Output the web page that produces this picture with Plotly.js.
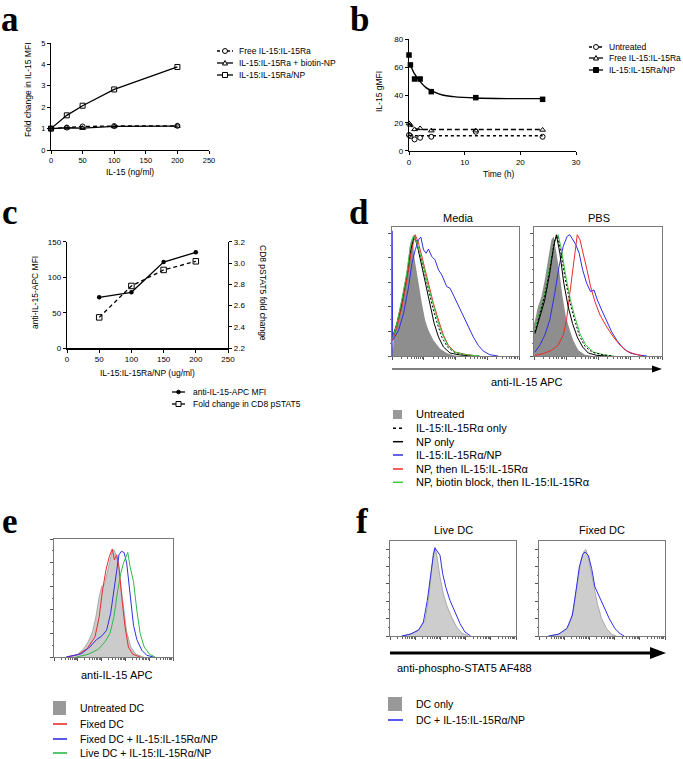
<!DOCTYPE html>
<html><head><meta charset="utf-8">
<script src="https://cdn.plot.ly/plotly-3.0.1.min.js"></script>
<style>html,body{margin:0;padding:0;background:#fff}</style>
</head><body><div id="chart" style="width:683px;height:759px"></div>
<script>
// ---------- Panel a ----------
const aDose = [0, 25, 50, 100, 200];
const aFree = [1, 1.05, 1.1, 1.12, 1.13];
const aBiotin = [1, 1.04, 1.02, 1.1, 1.12];
const aNP = [1, 1.62, 2.07, 2.83, 3.88];
const aNames = ['Free IL-15:IL-15Ra', 'IL-15:IL-15Ra + biotin-NP', 'IL-15:IL-15Ra/NP'];
const aXTicks = [0, 50, 100, 150, 200, 250];
const aYTicks = [0, 1, 2, 3, 4, 5];
// ---------- Panel b ----------
const bTime = [0, 0.25, 1, 2, 4, 12, 24];
const bUntreated = [11.3, 10.5, 8.1, 9.3, 10, 13.6, 10];
const bFree = [19.6, 18.5, 15.3, 16, 14.4, 14.4, 14.9];
const bNP = [68.7, 61.6, 51.5, 51.5, 42.4, 38.1, 36.9];
const bFitTime = [0, 0.5, 1, 2, 3, 4, 6, 8, 12, 18, 24];
const bFitNP = [62.8, 59.2, 55.1, 49.6, 45.5, 43.1, 40, 38.8, 37.8, 37.4, 37.4];
const bFitFree = [19.6, 17.5, 16, 15.4, 15.2, 15.2, 15.2, 15.2, 15.2, 15.2, 15.2];
const bFitUntreated = [11, 10.8, 10.7, 10.7, 10.7, 10.7, 10.7, 10.7, 10.7, 10.7, 10.7];
const bNames = ['Untreated', 'Free IL-15:IL-15Ra', 'IL-15:IL-15Ra/NP'];
const bXTicks = [0, 10, 20, 30];
const bYTicks = [0, 20, 40, 60, 80];
// ---------- Panel c ----------
const cConc = [50, 100, 150, 200];
const cMFI = [71.7, 78.8, 121.4, 135];
const cPSTAT5 = [2.49, 2.785, 2.935, 3.016];
const cNames = ['anti-IL-15-APC MFI', 'Fold change in CD8 pSTAT5'];
const cXTicks = [0, 50, 100, 150, 200, 250];
const cYTicks = [0, 50, 100, 150];
const cY2Ticks = [2.2, 2.4, 2.6, 2.8, 3.0, 3.2];
// ---------- Panel d (x: channel %, y: % of max) ----------
const dMediaGrayX = [0, 0.8, 1.3, 3.9, 7.8, 11.7, 14.4, 16.2, 17.5, 19.1, 20.9, 23.5, 26.1, 28.7, 32.6, 37.9, 43.1, 48.3, 53.5];
const dMediaGrayY = [12, 4.4, 17.4, 27.8, 46, 66.8, 87.5, 92.7, 77, 66.8, 53.8, 40.8, 27.8, 20, 12.2, 5.7, 2.3, 0.5, 0];
const dMediaBlackX = [0.5, 3.9, 7.8, 11.7, 14.9, 17.5, 20.1, 23.5, 26.9, 30, 33.2, 36.6, 40.5, 45.7, 53.5, 64];
const dMediaBlackY = [14.8, 25.2, 40.8, 61.6, 82.3, 93.2, 84.9, 69.4, 53.8, 38.2, 25.2, 14.8, 7, 2.3, 0.8, 0];
const dMediaDashX = [0.5, 3.9, 7.8, 11.7, 14.9, 17.8, 20.6, 24.3, 27.9, 31.6, 35.2, 39.2, 43.6, 49.6, 58.7, 69.2];
const dMediaDashY = [13.5, 23.9, 40.8, 61.6, 82.3, 92.7, 84.9, 70.6, 55.1, 39.5, 26.5, 14.8, 7, 2.6, 0.8, 0];
const dMediaRedX = [0.5, 3.9, 7.8, 11.7, 14.9, 18.3, 20.9, 24.8, 28.7, 32.6, 36.6, 40.5, 44.4, 49.6, 57.4, 66.6];
const dMediaRedY = [12.2, 22.6, 38.2, 59, 79.7, 94, 87.5, 71.9, 56.4, 40.8, 27.8, 16.1, 8.3, 3.1, 1.3, 0];
const dMediaGreenX = [0.5, 3.9, 7.8, 11.7, 14.4, 17, 20.1, 24.3, 27.9, 32.1, 35.8, 39.9, 44.4, 49.6, 58.7, 69.2];
const dMediaGreenY = [13.5, 25.2, 43.4, 64.2, 84.9, 93.2, 86.2, 71.9, 56.4, 40.8, 27.8, 16.1, 7.5, 2.9, 1, 0];
const dMediaBlueX = [0, 0, 0.5, 5.2, 9.1, 13.1, 15.7, 18.3, 20.9, 22.7, 24.8, 26.9, 28.7, 31.3, 33.9, 36.6, 39.2, 43.1, 45.7, 48.3, 52.2, 56.1, 60.1, 64, 67.9, 71.8, 77, 83.6];
const dMediaBlueY = [0, 97, 12.2, 20, 33, 53.8, 71.9, 82.3, 90.1, 92.2, 82.3, 79.7, 82.9, 77.1, 74.5, 66.8, 62.9, 53.8, 52.5, 47.3, 39.5, 30.4, 22.6, 14.8, 8.3, 3.9, 1, 0];
const dPbsGrayX = [0, 0.8, 3.1, 5.8, 8.4, 11, 13.6, 15.4, 17.5, 19.6, 22.3, 24.9, 28, 30.6, 34.6, 39.8, 46.3];
const dPbsGrayY = [25, 27.8, 38.2, 46, 59, 74.5, 90.1, 92.7, 79.7, 66.8, 46, 30.4, 20, 12.2, 4.4, 1, 0];
const dPbsBlackX = [0.8, 4.5, 8.4, 12.3, 15.4, 17.5, 20.2, 23.3, 26.7, 30.1, 33.8, 38, 42.4, 49, 56.8];
const dPbsBlackY = [17.4, 30.4, 43.4, 64.2, 84.9, 94, 79.7, 56.4, 38.2, 25.2, 14.8, 7, 2.3, 0.5, 0];
const dPbsDashX = [0.8, 4.5, 8.4, 12.3, 16, 18.3, 20.9, 24.3, 28, 31.4, 35.3, 39.8, 45.5, 54.2, 62];
const dPbsDashY = [18.7, 31.7, 47.3, 66.8, 88.8, 93.2, 81, 60.3, 42.1, 29.1, 16.1, 7.5, 2.9, 0.8, 0];
const dPbsGreenX = [0.8, 4.5, 8.4, 12.3, 16.2, 18.8, 21.5, 24.9, 28.5, 31.9, 35.9, 40.6, 46.3, 54.2, 62];
const dPbsGreenY = [20, 33, 48.6, 69.4, 90.1, 94, 82.3, 61.6, 43.4, 30.4, 17.4, 8.3, 3.1, 1, 0];
const dPbsBlueX = [0.8, 4.5, 8.4, 12.3, 16.2, 19.6, 22.8, 25.9, 28, 30.1, 32.7, 35.3, 38, 41.1, 44.2, 46.9, 49.5, 52.9, 56.8, 60.7, 64.7, 69.9, 75.1, 81.7, 88.2];
const dPbsBlueY = [3.1, 8.3, 16.1, 27.8, 48.6, 69.4, 84.9, 92.7, 94, 90.1, 86.2, 79.7, 66.8, 56.4, 49.9, 51.2, 43.4, 35.6, 26.5, 18.7, 12.2, 5.7, 2.3, 0.8, 0];
const dPbsRedX = [0.8, 7.1, 13.6, 18.8, 22.8, 25.4, 28, 30.1, 31.9, 33.8, 35.9, 38.5, 41.1, 44.2, 47.6, 51.6, 56.8, 62, 67.3, 72.5, 77.7, 84.3];
const dPbsRedY = [0.5, 1.8, 4.4, 8.3, 16.1, 27.8, 48.6, 66.8, 82.3, 94, 90.1, 79.7, 68.1, 53.8, 42.1, 31.7, 22.6, 14.8, 8.3, 3.9, 1.8, 0.3];
const dTitles = ['Media', 'PBS'];
const dNames = ['Untreated', 'IL-15:IL-15Rα only', 'NP only', 'IL-15:IL-15Rα/NP', 'NP, then IL-15:IL-15Rα', 'NP, biotin block, then IL-15:IL-15Rα'];
const dAxisLabel = 'anti-IL-15 APC';
// ---------- Panel e ----------
const eGrayX = [10.4, 18.9, 24.5, 28.7, 32.4, 35.2, 38, 40, 42.3, 44.2, 46.5, 48.5, 50.4, 52.1, 54.1, 56.1, 58.3, 61.1, 64.5, 69, 75.2];
const eGrayY = [0, 1.4, 6.3, 12.8, 21.3, 34.1, 51.1, 59.7, 61.1, 69.6, 80.7, 88.1, 90.9, 86.6, 76.7, 59.7, 39.8, 21.3, 8.5, 2.3, 0];
const eRedX = [10.4, 20.3, 27.9, 34.4, 38, 40.8, 43.7, 46.5, 49, 50.7, 52.7, 54.6, 56.9, 59.7, 62.5, 66.2, 72.4];
const eRedY = [0, 2, 7.1, 17, 34.1, 56.8, 73.9, 85.2, 91.5, 82.4, 86.6, 76.7, 51.1, 25.6, 8.5, 2.3, 0];
const eBlueX = [10.4, 23.1, 30.1, 35.8, 40, 44.2, 47.6, 50.4, 52.7, 54.6, 56.6, 58.9, 61.1, 63.9, 66.8, 69.6, 73.8, 78, 83.7];
const eBlueY = [0, 2.8, 8.5, 14.8, 17.6, 22.7, 36.9, 56.8, 73.9, 86.6, 89.5, 88.6, 79.5, 51.1, 27, 14.8, 5.7, 1.4, 0];
const eGreenX = [18.9, 28.7, 37.2, 42.8, 47, 50.4, 53.2, 56.1, 58.3, 60.3, 62, 63.9, 66.8, 69.6, 72.4, 75.8, 80.3, 85.1];
const eGreenY = [0, 2.3, 6.5, 12.8, 19.9, 34.1, 54, 71, 79.5, 85.2, 88.6, 76.7, 63.9, 39.8, 19.9, 8.5, 2.3, 0];
const eNames = ['Untreated DC', 'Fixed DC', 'Fixed DC + IL-15:IL-15Rα/NP', 'Live DC + IL-15:IL-15Rα/NP'];
const eAxisLabel = 'anti-IL-15 APC';
// ---------- Panel f ----------
const fLiveGrayX = [9.3, 17.2, 23.8, 27.8, 30.4, 32.5, 34.4, 35.7, 37.6, 39.7, 42.3, 45, 48.9, 52.9, 56.9, 62.2];
const fLiveGrayY = [0, 2.5, 7.7, 16.5, 37.5, 65.6, 86.7, 93.7, 81.4, 62.1, 44.6, 32.3, 20, 9.5, 3.2, 0];
const fLiveBlueX = [9.3, 15.9, 22.5, 26.5, 29.6, 32.3, 34.4, 35.7, 37.6, 39.7, 41.8, 44.4, 47.6, 51.6, 55.6, 59.5, 64];
const fLiveBlueY = [0, 1.8, 6, 14.7, 37.5, 65.6, 84.9, 92.6, 88.4, 84.9, 65.6, 50.9, 37.5, 25.3, 13, 4.2, 0];
const fFixedGrayX = [8.7, 16.7, 23.3, 27.2, 30.4, 33.1, 35.7, 37.3, 39.9, 43.1, 46.3, 49.7, 53.7, 57.7, 61.6];
const fFixedGrayY = [0, 2.5, 9.5, 27, 55.1, 77.9, 89.5, 90.9, 77.9, 55.1, 34, 18.2, 7.7, 1.8, 0];
const fFixedBlueX = [7.4, 15.3, 22, 26.5, 29.4, 32, 34.7, 36.5, 39.2, 41.8, 44.4, 47.9, 51.6, 55.8, 60.3, 64.3, 67.5];
const fFixedBlueY = [0, 1.8, 7.7, 21.8, 48.1, 72.6, 86, 88.4, 84.9, 70.9, 51.6, 41.1, 30.5, 18.2, 7.7, 2.5, 0];
const fTitles = ['Live DC', 'Fixed DC'];
const fNames = ['DC only', 'DC + IL-15:IL-15Rα/NP'];
const fAxisLabel = 'anti-phospho-STAT5 AF488';
const panelLetters = ['a', 'b', 'c', 'd', 'e', 'f'];

// ================= drawing =================
const W = 683, H = 759;
const px = x => x / W;
const py = y => 1 - y / H;
const FONT = 'Liberation Sans, Arial, Helvetica, sans-serif';
const BLUE = '#2f2fe8', RED = '#ec2b2b', GREEN = '#3fc93f', EGREEN = '#2fb84a';

function prismAxis(o) {
  return Object.assign({showline: true, linecolor: '#000', linewidth: 1.2, ticks: 'outside', ticklen: 3,
    tickwidth: 1, tickcolor: '#000', showgrid: false, zeroline: false, tickmode: 'array',
    tickfont: {family: FONT, size: 7.5, color: '#000'}, fixedrange: true}, o);
}
function logMinor(nd) {
  const v = [];
  for (let d = 0; d < nd; d++) for (let k = 2; k <= 9; k++) v.push((d + Math.log10(k)) * 100 / nd);
  return v;
}
function logMajor(nd) { const v = []; for (let d = 0; d <= nd; d++) v.push(d * 100 / nd); return v; }
function histX(domain, anchor, nd) {
  return {domain: domain, anchor: anchor, range: [0, 100], showline: true, mirror: true, linecolor: '#7a7a7a',
    linewidth: 1, ticks: 'outside', ticklen: 3, tickwidth: 1, tickcolor: '#555', showgrid: false, zeroline: false,
    showticklabels: false, tickmode: 'array', tickvals: logMajor(nd),
    minor: {tickmode: 'array', tickvals: logMinor(nd), ticklen: 1.5, tickcolor: '#666', ticks: 'outside'}, fixedrange: true};
}
function histY(domain, anchor, step) {
  const tv = [], mv = [];
  for (let i = 0; i * step <= 100.01; i++) tv.push(i * step);
  for (let i = 0; i * step + step / 2 <= 100; i++) mv.push(i * step + step / 2);
  return {domain: domain, anchor: anchor, range: [0, 100], showline: true, mirror: true, linecolor: '#7a7a7a',
    linewidth: 1, ticks: 'outside', ticklen: 3, tickwidth: 1, tickcolor: '#555', showgrid: false, zeroline: false,
    showticklabels: false, tickmode: 'array', tickvals: tv,
    minor: {tickmode: 'array', tickvals: mv, ticklen: 1.5, tickcolor: '#666', ticks: 'outside'}, fixedrange: true};
}

const traces = [];
function pt(x, y, xa, ya, o) { traces.push(Object.assign({x: x, y: y, xaxis: xa, yaxis: ya, type: 'scatter', showlegend: false, hoverinfo: 'skip', cliponaxis: false}, o)); }

// a
pt(aDose, aFree, 'x', 'y', {mode: 'lines+markers', line: {color: '#000', width: 1.3, dash: '4px,3px'}, marker: {symbol: 'circle-open', size: 5, color: '#000', line: {width: 1}}});
pt(aDose, aBiotin, 'x', 'y', {mode: 'lines+markers', line: {color: '#000', width: 1.3}, marker: {symbol: 'triangle-up-open', size: 5, color: '#000', line: {width: 1}}});
pt(aDose, aNP, 'x', 'y', {mode: 'lines+markers', line: {color: '#000', width: 1.3}, marker: {symbol: 'square-open', size: 5, color: '#000', line: {width: 1}}});
// b
pt(bFitTime, bFitUntreated, 'x2', 'y2', {mode: 'lines', line: {color: '#000', width: 1.4, dash: 'dot', shape: 'spline'}});
pt(bFitTime, bFitFree, 'x2', 'y2', {mode: 'lines', line: {color: '#000', width: 1.4, dash: '5px,3px', shape: 'spline'}});
pt(bFitTime, bFitNP, 'x2', 'y2', {mode: 'lines', line: {color: '#000', width: 1.4, shape: 'spline'}});
pt(bTime, bUntreated, 'x2', 'y2', {mode: 'markers', marker: {symbol: 'circle-open', size: 5, color: '#000', line: {width: 1}}});
pt(bTime, bFree, 'x2', 'y2', {mode: 'markers', marker: {symbol: 'triangle-up-open', size: 5, color: '#000', line: {width: 1}}});
pt(bTime, bNP, 'x2', 'y2', {mode: 'markers', marker: {symbol: 'square', size: 5.5, color: '#000'}});
// c
pt(cConc, cMFI, 'x3', 'y3', {mode: 'lines+markers', line: {color: '#000', width: 1.3}, marker: {symbol: 'circle', size: 4.5, color: '#000'}});
pt(cConc, cPSTAT5, 'x3', 'y9', {mode: 'lines+markers', line: {color: '#000', width: 1.3, dash: '4px,3px'}, marker: {symbol: 'square-open', size: 5.5, color: '#000', line: {width: 1}}});
// d
function hist(x, y, xa, ya, color, o) {
  pt(x, y, xa, ya, Object.assign({mode: 'lines', cliponaxis: true, line: {color: color, width: 1}}, o || {}));
}
function gray(x, y, xa, ya, fill, lc) {
  pt(x, y, xa, ya, {mode: 'lines', cliponaxis: true, fill: 'tozeroy', fillcolor: fill, line: {color: lc || fill, width: lc ? 0.8 : 0}});
}
gray(dMediaGrayX, dMediaGrayY, 'x4', 'y4', '#8e8e8e');
hist(dMediaBlackX, dMediaBlackY, 'x4', 'y4', '#000');
hist(dMediaDashX, dMediaDashY, 'x4', 'y4', '#000', {line: {color: '#000', width: 1, dash: '2px,2px'}});
hist(dMediaBlueX, dMediaBlueY, 'x4', 'y4', BLUE);
hist(dMediaRedX, dMediaRedY, 'x4', 'y4', RED);
hist(dMediaGreenX, dMediaGreenY, 'x4', 'y4', GREEN);
gray(dPbsGrayX, dPbsGrayY, 'x5', 'y5', '#8e8e8e');
hist(dPbsBlueX, dPbsBlueY, 'x5', 'y5', BLUE);
hist(dPbsRedX, dPbsRedY, 'x5', 'y5', RED);
hist(dPbsGreenX, dPbsGreenY, 'x5', 'y5', GREEN);
hist(dPbsDashX, dPbsDashY, 'x5', 'y5', '#000', {line: {color: '#000', width: 1, dash: '2px,2px'}});
hist(dPbsBlackX, dPbsBlackY, 'x5', 'y5', '#000');
// e
gray(eGrayX, eGrayY, 'x6', 'y6', '#cbcbcb', '#9c9c9c');
hist(eRedX, eRedY, 'x6', 'y6', RED);
hist(eBlueX, eBlueY, 'x6', 'y6', BLUE);
hist(eGreenX, eGreenY, 'x6', 'y6', EGREEN);
// f
gray(fLiveGrayX, fLiveGrayY, 'x7', 'y7', '#cdcdcd', '#9c9c9c');
hist(fLiveBlueX, fLiveBlueY, 'x7', 'y7', BLUE);
gray(fFixedGrayX, fFixedGrayY, 'x8', 'y8', '#cdcdcd', '#9c9c9c');
hist(fFixedBlueX, fFixedBlueY, 'x8', 'y8', BLUE);

// ---------- annotations & shapes ----------
const ann = [], shapes = [];
function txt(t, x, y, size, o) {
  ann.push(Object.assign({text: t, x: px(x), y: py(y), xref: 'paper', yref: 'paper', showarrow: false,
    xanchor: 'center', yanchor: 'middle', font: {family: FONT, size: size, color: '#000'}}, o || {}));
}
function line(x0, y0, x1, y1, color, width, dash) {
  shapes.push({type: 'line', xref: 'paper', yref: 'paper', x0: px(x0), y0: py(y0), x1: px(x1), y1: py(y1),
    line: {color: color, width: width, dash: dash || 'solid'}, layer: 'above'});
}
function marker(kind, cx, cy, r, filled) {
  const base = {xref: 'paper', yref: 'paper', line: {color: '#000', width: 1}, fillcolor: filled ? '#000' : '#fff', layer: 'above'};
  if (kind === 'circle' || kind === 'square') {
    shapes.push(Object.assign(base, {type: kind === 'circle' ? 'circle' : 'rect', x0: px(cx - r), x1: px(cx + r), y0: py(cy + r), y1: py(cy - r)}));
  } else {
    shapes.push(Object.assign(base, {type: 'path', path: `M ${px(cx - r)},${py(cy + r * 0.8)} L ${px(cx + r)},${py(cy + r * 0.8)} L ${px(cx)},${py(cy - r)} Z`}));
  }
}
function rectKey(x0, y0, x1, y1, fill) {
  shapes.push({type: 'rect', xref: 'paper', yref: 'paper', x0: px(x0), x1: px(x1), y0: py(y1), y1: py(y0), fillcolor: fill, line: {width: 0}, layer: 'above'});
}

// panel letters
const letterPos = [[10, 19.8, 35], [359, 19.8, 35], [10, 212.5, 35], [359, 212.5, 35], [10, 521, 35], [362, 521, 35]];
panelLetters.forEach((l, i) => txt('<b>' + l + '</b>', letterPos[i][0], letterPos[i][1], letterPos[i][2], {font: {family: 'Liberation Serif, Times New Roman, serif', size: letterPos[i][2], color: '#000'}}));

// a titles + legend
txt('IL-15 (ng/ml)', 130, 172, 8.5);
txt('Fold change in IL-15 MFI', 28, 90, 8.5, {textangle: -90});
const aRows = [51, 63, 75], aKinds = ['circle', 'triangle', 'square'], aDash = ['3px,2px', 'solid', 'solid'];
aNames.forEach((n, i) => {
  line(217, aRows[i], 233, aRows[i], '#000', 1.3, aDash[i]);
  marker(aKinds[i], 225, aRows[i], 2.5, false);
  txt(n, 237, aRows[i], 8.5, {xanchor: 'left'});
});
// b
txt('Time (h)', 498, 174, 8.5);
txt('IL-15 gMFI', 379, 92, 8.5, {textangle: -90});
const bRows = [47, 58, 70], bKinds = ['circle', 'triangle', 'square'], bFilled = [false, false, true], bDash = ['3px,2px', 'solid', 'solid'];
bNames.forEach((n, i) => {
  line(589, bRows[i], 603, bRows[i], '#000', 1.3, bDash[i]);
  marker(bKinds[i], 596, bRows[i], 2.5, bFilled[i]);
  txt(n, 607, bRows[i], 8.5, {xanchor: 'left'});
});
// c
txt('IL-15:IL-15Ra/NP (ug/ml)', 147, 373, 8.5);
txt('anti-IL-15-APC MFI', 35, 293, 8.5, {textangle: -90});
txt('CD8 pSTAT5 fold change', 263, 293, 8.5, {textangle: 90});
const cRows = [392, 404], cKinds = ['circle', 'square'], cFilled = [true, false];
cNames.forEach((n, i) => {
  line(172, cRows[i], 185, cRows[i], '#000', 1.3);
  marker(cKinds[i], 178.5, cRows[i], cFilled[i] ? 1.8 : 2.5, cFilled[i]);
  txt(n, 191, cRows[i], 8.5, {xanchor: 'left'});
});
// d
txt(dTitles[0], 458, 218, 11);
txt(dTitles[1], 599, 218, 11);
line(392, 369, 654, 369, '#000', 1.2);
shapes.push({type: 'path', xref: 'paper', yref: 'paper', path: `M ${px(662)},${py(369)} L ${px(652)},${py(365.5)} L ${px(652)},${py(372.5)} Z`, fillcolor: '#000', line: {width: 0}, layer: 'above'});
txt(dAxisLabel, 527, 382, 11);
const dRows = [414.3, 428.3, 441.7, 455, 469, 482.3];
const dKeyColors = [null, '#000', '#000', BLUE, RED, GREEN];
dNames.forEach((n, i) => {
  if (i === 0) rectKey(393, 410, 402, 419, '#999');
  else line(393, dRows[i], 403, dRows[i], dKeyColors[i], 1.5, i === 1 ? '3px,3px' : 'solid');
  txt(n, 414, dRows[i], 11, {xanchor: 'left'});
});
// e
txt(eAxisLabel, 117, 675, 11);
const eRows = [708, 724, 739, 753], eColors = [null, RED, BLUE, EGREEN];
eNames.forEach((n, i) => {
  if (i === 0) rectKey(53, 701, 66, 715, '#999');
  else line(53, eRows[i], 67, eRows[i], eColors[i], 1.6);
  txt(n, 78, eRows[i], 10.5, {xanchor: 'left'});
});
// f
txt(fTitles[0], 453, 530, 11);
txt(fTitles[1], 602, 530, 11);
line(390, 653, 652, 653, '#000', 3);
shapes.push({type: 'path', xref: 'paper', yref: 'paper', path: `M ${px(666)},${py(653)} L ${px(650)},${py(647)} L ${px(650)},${py(659)} Z`, fillcolor: '#000', line: {width: 0}, layer: 'above'});
txt(fAxisLabel, 395, 668, 11, {xanchor: 'left'});
const fRows = [704, 720];
fNames.forEach((n, i) => {
  if (i === 0) rectKey(388, 697, 402, 711, '#999');
  else line(388, fRows[i], 403, fRows[i], BLUE, 1.6);
  txt(n, 414, fRows[i], 10.5, {xanchor: 'left'});
});

const layout = {
  width: W, height: H, margin: {l: 0, r: 0, t: 0, b: 0}, paper_bgcolor: '#fff', plot_bgcolor: 'rgba(0,0,0,0)',
  showlegend: false, font: {family: FONT},
  xaxis: prismAxis({domain: [px(51), px(209)], anchor: 'y', range: [0, 250], tickvals: aXTicks}),
  yaxis: prismAxis({domain: [py(150), py(43)], anchor: 'x', range: [0, 5], tickvals: aYTicks}),
  xaxis2: prismAxis({domain: [px(409), px(576)], anchor: 'y2', range: [0, 30], tickvals: bXTicks, tickfont: {family: FONT, size: 8, color: '#000'}}),
  yaxis2: prismAxis({domain: [py(150.7), py(39.3)], anchor: 'x2', range: [0, 80], tickvals: bYTicks, tickfont: {family: FONT, size: 8, color: '#000'}}),
  xaxis3: prismAxis({domain: [px(67), px(228)], anchor: 'y3', range: [0, 250], tickvals: cXTicks, tickfont: {family: FONT, size: 8, color: '#000'}}),
  yaxis3: prismAxis({domain: [py(348.3), py(241.7)], anchor: 'x3', range: [0, 150], tickvals: cYTicks, tickfont: {family: FONT, size: 8, color: '#000'}}),
  yaxis9: prismAxis({overlaying: 'y3', anchor: 'x3', side: 'right', range: [2.2, 3.2], tickvals: cY2Ticks, ticktext: cY2Ticks.map(v => v.toFixed(1)), tickfont: {family: FONT, size: 8, color: '#000'}}),
  xaxis4: histX([px(392), px(519)], 'y4', 4),
  yaxis4: histY([py(356), py(227)], 'x4', 19.06),
  xaxis5: histX([px(534), px(662)], 'y5', 4),
  yaxis5: histY([py(356), py(227)], 'x5', 19.06),
  xaxis6: histX([px(54), px(173)], 'y6', 5),
  yaxis6: histY([py(657), py(539)], 'x6', 20),
  xaxis7: histX([px(390), px(516)], 'y7', 5),
  yaxis7: histY([py(636), py(541)], 'x7', 18.25),
  xaxis8: histX([px(539), px(665)], 'y8', 5),
  yaxis8: histY([py(636), py(541)], 'x8', 18.25),
  annotations: ann, shapes: shapes
};
Plotly.newPlot('chart', traces, layout, {staticPlot: true, displayModeBar: false});
</script></body></html>
